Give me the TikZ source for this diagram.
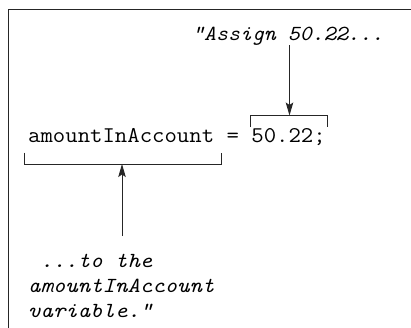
\documentclass[tikz,border=0pt]{standalone}
\usepackage{fontspec}
\setmonofont{Latin Modern Mono}
\usetikzlibrary{arrows.meta}
\begin{document}
\begin{tikzpicture}[x=1bp,y=-1bp,
  code/.style={inner sep=0pt, anchor=base west, font=\fontsize{22.5bp}{25bp}\selectfont\ttfamily\addfontfeature{FakeStretch=1.07}},
  note/.style={inner sep=0pt, anchor=base west, font=\fontsize{21.5bp}{25bp}\selectfont\ttfamily\itshape\addfontfeature{FakeStretch=1.10}},
  assignnote/.style={note, font=\fontsize{21.5bp}{25bp}\selectfont\ttfamily\itshape\addfontfeature{FakeStretch=1.06}},
  line/.style={line width=1bp, draw=black!85},
  arr/.style={line, -{Stealth[length=13bp,width=7.5bp,inset=2.5bp]}}]
\useasboundingbox (0,0) rectangle (411,328);
\clip (0,0) rectangle (411,328);
\draw[line] (8,340) -- (8,9) -- (420,9);
\node[code] (stmt) at (28,142) {amountInAccount = 50.22;};
\node[assignnote] (assign) at (192,40.5) {"Assign 50.22...};
\node[note] (tothe) at (28,267) {\ ...to the};
\node[note] (var) at (28,292) {amountInAccount};
\node[note] (var2) at (28,317) {variable.”};
% top bracket
\coordinate (tl) at (250,127);
\coordinate (tr) at (327.5,127);
\coordinate (topmid) at (289.5,115.5);
\draw[line] (tl) -- (tl |- topmid) -- (tr |- topmid) -- (tr);
% bottom bracket
\coordinate (bl) at (24.5,152.5);
\coordinate (br) at (221.5,152.5);
\coordinate (botmid) at (122,164);
\draw[line] (bl) -- (bl |- botmid) -- (br |- botmid) -- (br);
\coordinate (assignfoot) at (289.5,45);
\coordinate (totop) at (122,236);
\draw[arr] (assignfoot) -- (topmid);
\draw[arr] (totop) -- (botmid);
\end{tikzpicture}
\end{document}
